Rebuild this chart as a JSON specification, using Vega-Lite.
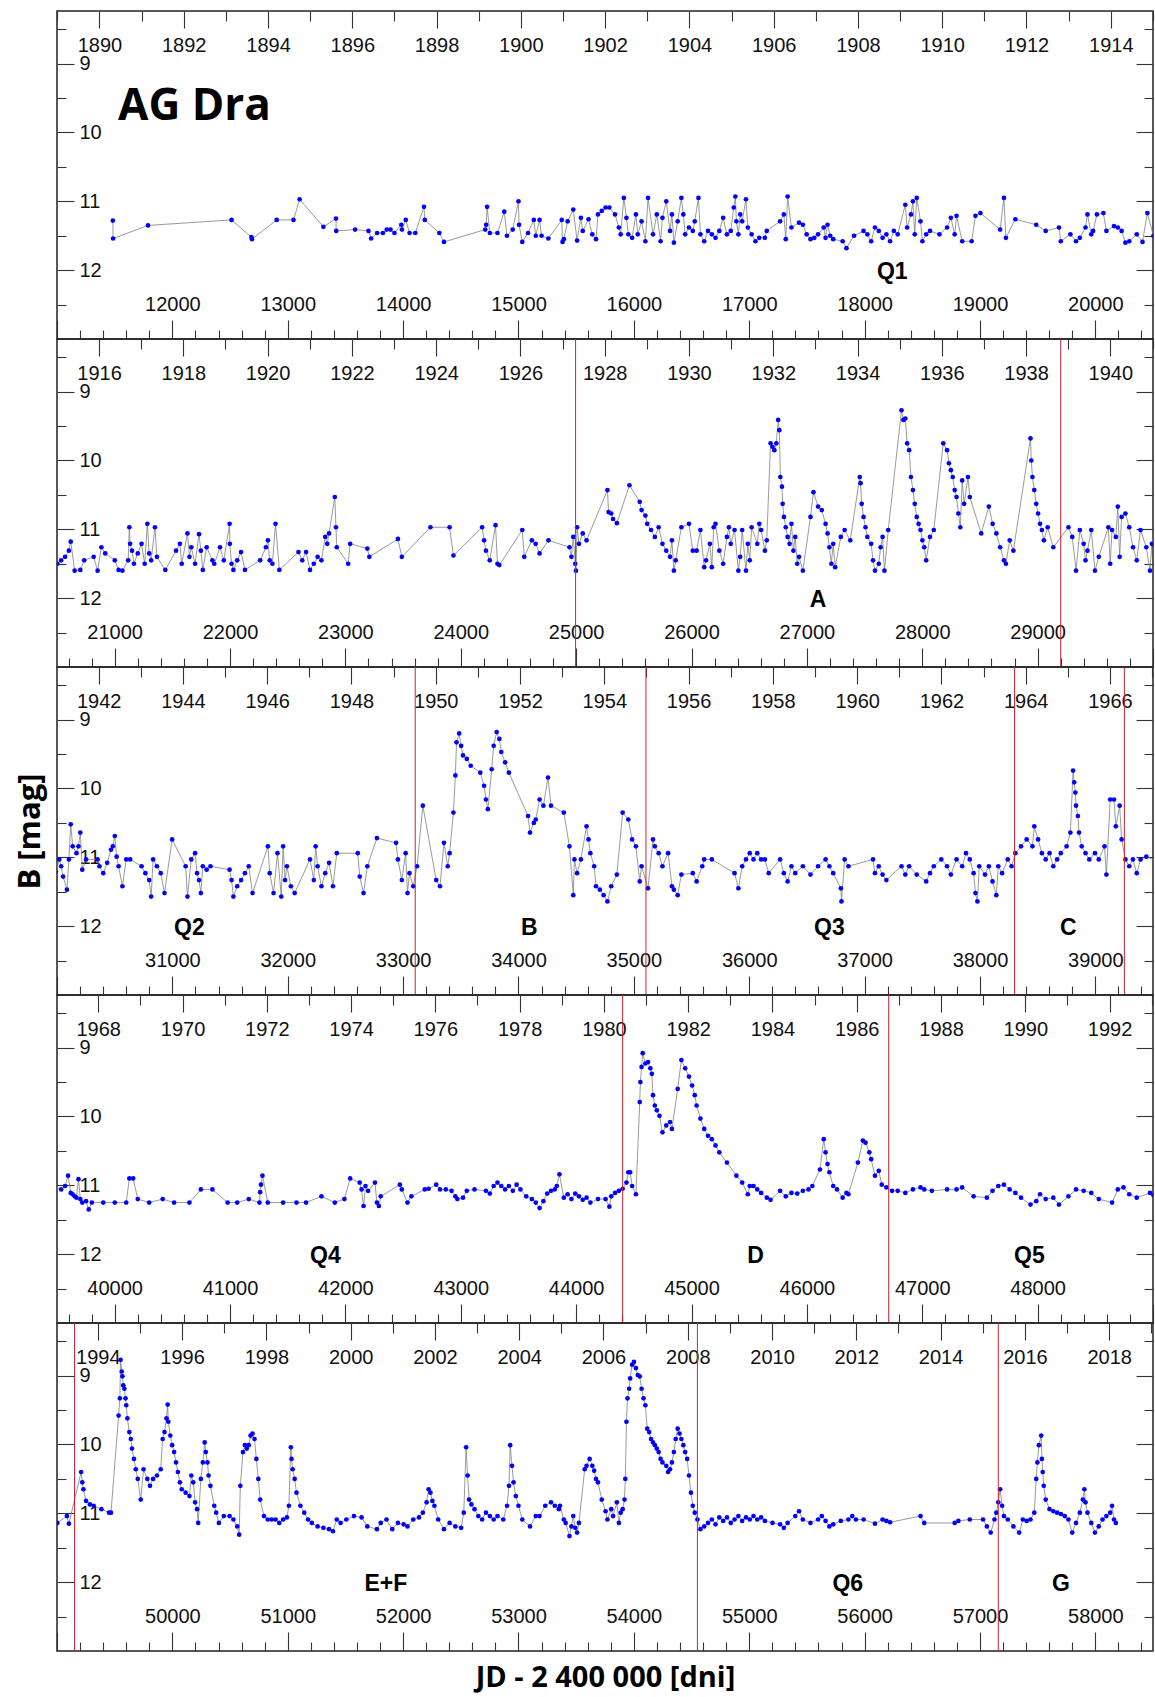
{
  "$schema": "https://vega.github.io/schema/vega-lite/v6.json",
  "padding": {"left": 13, "top": 9, "right": 0, "bottom": 0},
  "background": "white",
  "spacing": 0,
  "bounds": "flush",
  "datasets": {
    "cuts": [{"jd": 24995}, {"jd": 29200}, {"jd": 33105}, {"jd": 35105}, {"jd": 38300}, {"jd": 39252}, {"jd": 44403}, {"jd": 46709}, {"jd": 49152}, {"jd": 54551}, {"jd": 57159}],
    "phases": [
      {"jd": 18240, "b": 12.03, "t": "Q1"}, {"jd": 27096, "b": 12.03, "t": "A"},
      {"jd": 31148, "b": 12.03, "t": "Q2"}, {"jd": 34094, "b": 12.03, "t": "B"}, {"jd": 36695, "b": 12.03, "t": "Q3"}, {"jd": 38767, "b": 12.03, "t": "C"},
      {"jd": 41826, "b": 12.03, "t": "Q4"}, {"jd": 45554, "b": 12.03, "t": "D"}, {"jd": 47929, "b": 12.03, "t": "Q5"},
      {"jd": 51850, "b": 12.03, "t": "E+F"}, {"jd": 55854, "b": 12.03, "t": "Q6"}, {"jd": 57702, "b": 12.03, "t": "G"}
    ],
    "lc": [
{"jd":11484,"b":11.28},{"jd":11486,"b":11.54},{"jd":11789,"b":11.35},{"jd":12513,"b":11.27},{"jd":12685,"b":11.52},{"jd":12690,"b":11.55},{"jd":12904,"b":11.27},{"jd":13050,"b":11.27},{"jd":13103,"b":10.97},{"jd":13309,"b":11.37},{"jd":13418,"b":11.25},{"jd":13420,"b":11.43},{"jd":13584,"b":11.41},{"jd":13700,"b":11.43},{"jd":13723,"b":11.54},{"jd":13775,"b":11.46},{"jd":13825,"b":11.46},{"jd":13858,"b":11.41},{"jd":13891,"b":11.41},{"jd":13925,"b":11.46},{"jd":13984,"b":11.34},{"jd":13990,"b":11.41},{"jd":14023,"b":11.27},{"jd":14056,"b":11.46},{"jd":14106,"b":11.46},{"jd":14181,"b":11.08},{"jd":14188,"b":11.27},{"jd":14314,"b":11.46},{"jd":14354,"b":11.59},{"jd":14712,"b":11.41},{"jd":14720,"b":11.34},{"jd":14728,"b":11.08},{"jd":14752,"b":11.46},{"jd":14818,"b":11.46},{"jd":14877,"b":11.15},{"jd":14900,"b":11.5},{"jd":14950,"b":11.41},{"jd":15000,"b":11.0},{"jd":15005,"b":11.34},{"jd":15033,"b":11.59},{"jd":15083,"b":11.46},{"jd":15133,"b":11.27},{"jd":15150,"b":11.5},{"jd":15183,"b":11.27},{"jd":15200,"b":11.5},{"jd":15259,"b":11.54},{"jd":15375,"b":11.27},{"jd":15382,"b":11.59},
{"jd":15393,"b":11.55},{"jd":15426,"b":11.29},{"jd":15475,"b":11.12},{"jd":15508,"b":11.57},{"jd":15541,"b":11.24},{"jd":15557,"b":11.43},{"jd":15607,"b":11.26},{"jd":15640,"b":11.48},{"jd":15672,"b":11.55},{"jd":15689,"b":11.19},{"jd":15722,"b":11.14},{"jd":15755,"b":11.09},{"jd":15788,"b":11.09},{"jd":15837,"b":11.19},{"jd":15870,"b":11.38},{"jd":15886,"b":11.48},{"jd":15913,"b":10.95},{"jd":15936,"b":11.24},{"jd":15952,"b":11.48},{"jd":15985,"b":11.53},{"jd":16018,"b":11.19},{"jd":16034,"b":11.48},{"jd":16067,"b":11.29},{"jd":16100,"b":11.58},{"jd":16123,"b":10.95},{"jd":16166,"b":11.48},{"jd":16199,"b":11.19},{"jd":16232,"b":11.58},{"jd":16248,"b":11.24},{"jd":16281,"b":11.0},{"jd":16314,"b":11.43},{"jd":16330,"b":11.19},{"jd":16347,"b":11.6},{"jd":16380,"b":11.29},{"jd":16412,"b":10.95},{"jd":16429,"b":11.19},{"jd":16445,"b":11.48},{"jd":16478,"b":11.38},{"jd":16511,"b":11.43},{"jd":16528,"b":11.29},{"jd":16560,"b":10.95},{"jd":16577,"b":11.48},{"jd":16610,"b":11.58},{"jd":16643,"b":11.43},{"jd":16676,"b":11.48},{"jd":16708,"b":11.53},{"jd":16741,"b":11.43},{"jd":16774,"b":11.24},{"jd":16807,"b":11.48},{"jd":16840,"b":11.43},{"jd":16866,"b":11.09},{"jd":16880,"b":10.93},{"jd":16889,"b":11.29},{"jd":16906,"b":11.48},{"jd":16922,"b":11.19},{"jd":16939,"b":11.29},{"jd":16972,"b":10.97},{"jd":16988,"b":11.38},{"jd":17021,"b":11.48},{"jd":17054,"b":11.58},{"jd":17087,"b":11.53},{"jd":17136,"b":11.53},{"jd":17152,"b":11.43},{"jd":17268,"b":11.29},{"jd":17300,"b":11.19},{"jd":17317,"b":11.55},{"jd":17333,"b":10.93},{"jd":17366,"b":11.38},{"jd":17432,"b":11.31},{"jd":17465,"b":11.34},{"jd":17498,"b":11.48},{"jd":17531,"b":11.55},{"jd":17564,"b":11.53},{"jd":17597,"b":11.48},{"jd":17646,"b":11.38},{"jd":17662,"b":11.53},{"jd":17679,"b":11.34},{"jd":17702,"b":11.5},{"jd":17728,"b":11.55},{"jd":17810,"b":11.58},{"jd":17843,"b":11.68},{"jd":17909,"b":11.5},{"jd":17991,"b":11.43},{"jd":18024,"b":11.48},{"jd":18057,"b":11.58},{"jd":18090,"b":11.38},{"jd":18123,"b":11.43},{"jd":18156,"b":11.53},{"jd":18189,"b":11.48},{"jd":18221,"b":11.58},{"jd":18254,"b":11.43},{"jd":18287,"b":11.48},{"jd":18353,"b":11.05},{"jd":18369,"b":11.38},{"jd":18402,"b":11.19},{"jd":18419,"b":11.0},{"jd":18435,"b":11.48},{"jd":18452,"b":10.95},{"jd":18485,"b":11.29},{"jd":18501,"b":11.58},{"jd":18534,"b":11.48},{"jd":18567,"b":11.43},{"jd":18649,"b":11.48},{"jd":18715,"b":11.38},{"jd":18748,"b":11.24},{"jd":18781,"b":11.48},{"jd":18797,"b":11.21},{"jd":18846,"b":11.58},{"jd":18928,"b":11.58},{"jd":18961,"b":11.21},{"jd":19004,"b":11.17},{"jd":19175,"b":11.41},{"jd":19208,"b":10.95},{"jd":19225,"b":11.53},{"jd":19307,"b":11.26},{"jd":19488,"b":11.34},{"jd":19570,"b":11.43},{"jd":19685,"b":11.38},{"jd":19701,"b":11.58},{"jd":19784,"b":11.48},{"jd":19833,"b":11.58},{"jd":19866,"b":11.53},{"jd":19915,"b":11.38},{"jd":19932,"b":11.19},{"jd":19965,"b":11.48},{"jd":19981,"b":11.43},{"jd":20014,"b":11.19},{"jd":20070,"b":11.17},{"jd":20096,"b":11.43},{"jd":20162,"b":11.36},{"jd":20195,"b":11.38},{"jd":20228,"b":11.43},{"jd":20261,"b":11.6},{"jd":20294,"b":11.58},{"jd":20359,"b":11.48},{"jd":20409,"b":11.59},{"jd":20451,"b":11.17},
{"jd":20503,"b":11.5},{"jd":20536,"b":11.45},{"jd":20570,"b":11.4},{"jd":20603,"b":11.31},{"jd":20619,"b":11.18},{"jd":20653,"b":11.6},{"jd":20702,"b":11.59},{"jd":20736,"b":11.45},{"jd":20818,"b":11.4},{"jd":20852,"b":11.6},{"jd":20885,"b":11.26},{"jd":20918,"b":11.35},{"jd":21001,"b":11.45},{"jd":21034,"b":11.59},{"jd":21067,"b":11.6},{"jd":21117,"b":11.45},{"jd":21127,"b":10.97},{"jd":21134,"b":11.21},{"jd":21150,"b":11.31},{"jd":21167,"b":11.5},{"jd":21200,"b":11.35},{"jd":21233,"b":11.21},{"jd":21260,"b":11.5},{"jd":21283,"b":10.92},{"jd":21299,"b":11.35},{"jd":21316,"b":11.45},{"jd":21349,"b":10.97},{"jd":21366,"b":11.4},{"jd":21439,"b":11.59},{"jd":21532,"b":11.31},{"jd":21565,"b":11.21},{"jd":21581,"b":11.5},{"jd":21631,"b":11.06},{"jd":21648,"b":11.4},{"jd":21664,"b":11.26},{"jd":21697,"b":11.5},{"jd":21731,"b":11.07},{"jd":21747,"b":11.31},{"jd":21764,"b":11.59},{"jd":21797,"b":11.26},{"jd":21847,"b":11.45},{"jd":21863,"b":11.5},{"jd":21913,"b":11.26},{"jd":21946,"b":11.45},{"jd":21996,"b":10.92},{"jd":21998,"b":11.21},{"jd":22013,"b":11.5},{"jd":22029,"b":11.59},{"jd":22062,"b":11.45},{"jd":22095,"b":11.33},{"jd":22129,"b":11.59},{"jd":22261,"b":11.45},{"jd":22311,"b":11.26},{"jd":22328,"b":11.16},{"jd":22344,"b":11.45},{"jd":22367,"b":11.5},{"jd":22394,"b":10.92},{"jd":22427,"b":11.59},{"jd":22593,"b":11.33},{"jd":22626,"b":11.45},{"jd":22659,"b":11.33},{"jd":22693,"b":11.59},{"jd":22726,"b":11.5},{"jd":22759,"b":11.4},{"jd":22792,"b":11.45},{"jd":22825,"b":11.11},{"jd":22842,"b":11.21},{"jd":22858,"b":11.06},{"jd":22908,"b":10.53},{"jd":22918,"b":10.97},{"jd":22925,"b":11.26},{"jd":23024,"b":11.5},{"jd":23041,"b":11.21},{"jd":23190,"b":11.28},{"jd":23207,"b":11.4},{"jd":23455,"b":11.14},{"jd":23489,"b":11.4},{"jd":23737,"b":10.97},{"jd":23903,"b":10.97},{"jd":23936,"b":11.38},{"jd":24185,"b":10.97},{"jd":24202,"b":11.16},{"jd":24218,"b":11.31},{"jd":24251,"b":11.45},{"jd":24301,"b":10.94},{"jd":24318,"b":11.5},{"jd":24334,"b":11.52},{"jd":24533,"b":11.01},{"jd":24550,"b":11.4},{"jd":24616,"b":11.16},{"jd":24649,"b":11.21},{"jd":24683,"b":11.35},{"jd":24760,"b":11.16},
{"jd":24942,"b":11.26},{"jd":24959,"b":11.4},{"jd":24975,"b":11.11},{"jd":24992,"b":11.5},{"jd":24998,"b":11.6},{"jd":25008,"b":10.97},{"jd":25024,"b":11.21},{"jd":25057,"b":11.06},{"jd":25090,"b":11.16},{"jd":25271,"b":10.43},{"jd":25281,"b":10.75},{"jd":25304,"b":10.77},{"jd":25320,"b":10.85},{"jd":25353,"b":10.91},{"jd":25462,"b":10.36},{"jd":25551,"b":10.6},{"jd":25567,"b":10.72},{"jd":25600,"b":10.8},{"jd":25616,"b":10.92},{"jd":25649,"b":11.01},{"jd":25682,"b":11.11},{"jd":25715,"b":10.97},{"jd":25748,"b":11.21},{"jd":25781,"b":11.31},{"jd":25814,"b":11.4},{"jd":25830,"b":11.16},{"jd":25847,"b":11.6},{"jd":25863,"b":11.45},{"jd":25912,"b":10.97},{"jd":25978,"b":10.92},{"jd":26011,"b":11.31},{"jd":26044,"b":11.31},{"jd":26077,"b":11.01},{"jd":26110,"b":11.55},{"jd":26126,"b":11.45},{"jd":26159,"b":11.21},{"jd":26176,"b":11.55},{"jd":26192,"b":10.97},{"jd":26208,"b":10.92},{"jd":26241,"b":11.31},{"jd":26274,"b":11.5},{"jd":26307,"b":11.11},{"jd":26324,"b":10.97},{"jd":26340,"b":11.21},{"jd":26373,"b":11.01},{"jd":26406,"b":11.6},{"jd":26422,"b":11.4},{"jd":26439,"b":11.01},{"jd":26472,"b":11.6},{"jd":26488,"b":11.21},{"jd":26505,"b":11.45},{"jd":26521,"b":10.97},{"jd":26570,"b":11.21},{"jd":26587,"b":10.92},{"jd":26603,"b":11.01},{"jd":26636,"b":11.31},{"jd":26652,"b":11.16},
{"jd":26685,"b":9.75},{"jd":26702,"b":9.8},{"jd":26718,"b":9.85},{"jd":26735,"b":9.75},{"jd":26751,"b":9.41},{"jd":26761,"b":9.56},{"jd":26770,"b":10.24},{"jd":26784,"b":10.38},{"jd":26790,"b":10.63},{"jd":26801,"b":10.82},{"jd":26817,"b":10.97},{"jd":26833,"b":11.11},{"jd":26850,"b":11.21},{"jd":26866,"b":10.92},{"jd":26883,"b":11.31},{"jd":26899,"b":11.11},{"jd":26916,"b":11.5},{"jd":26932,"b":11.4},{"jd":26965,"b":11.6},{"jd":27031,"b":10.82},{"jd":27057,"b":10.46},{"jd":27097,"b":10.67},{"jd":27129,"b":10.72},{"jd":27162,"b":10.92},{"jd":27179,"b":11.06},{"jd":27195,"b":11.26},{"jd":27212,"b":11.5},{"jd":27228,"b":11.21},{"jd":27245,"b":11.55},{"jd":27294,"b":11.11},{"jd":27327,"b":11.01},{"jd":27376,"b":11.16},{"jd":27458,"b":10.24},{"jd":27465,"b":10.33},{"jd":27475,"b":10.63},{"jd":27491,"b":10.82},{"jd":27508,"b":10.97},{"jd":27524,"b":11.11},{"jd":27557,"b":11.21},{"jd":27573,"b":11.45},{"jd":27590,"b":11.6},{"jd":27623,"b":11.5},{"jd":27639,"b":11.26},{"jd":27656,"b":11.11},{"jd":27672,"b":11.6},{"jd":27705,"b":11.01},
{"jd":27820,"b":9.27},{"jd":27836,"b":9.41},{"jd":27853,"b":9.39},{"jd":27869,"b":9.75},{"jd":27886,"b":9.85},{"jd":27902,"b":10.24},{"jd":27919,"b":10.43},{"jd":27935,"b":10.63},{"jd":27952,"b":10.82},{"jd":27968,"b":10.92},{"jd":27985,"b":11.01},{"jd":28001,"b":11.16},{"jd":28017,"b":11.26},{"jd":28034,"b":11.45},{"jd":28067,"b":11.11},{"jd":28100,"b":11.01},
{"jd":28182,"b":9.75},{"jd":28215,"b":9.85},{"jd":28231,"b":10.04},{"jd":28248,"b":10.14},{"jd":28264,"b":10.24},{"jd":28281,"b":10.43},{"jd":28297,"b":10.53},{"jd":28313,"b":10.77},{"jd":28330,"b":10.97},{"jd":28346,"b":10.29},{"jd":28363,"b":10.63},{"jd":28396,"b":10.24},{"jd":28412,"b":10.53},{"jd":28511,"b":11.06},{"jd":28577,"b":10.67},{"jd":28610,"b":10.92},{"jd":28642,"b":11.06},{"jd":28675,"b":11.26},{"jd":28708,"b":11.45},{"jd":28725,"b":11.5},{"jd":28758,"b":11.16},{"jd":28790,"b":11.31},
{"jd":28938,"b":9.68},{"jd":28945,"b":10.0},{"jd":28955,"b":10.24},{"jd":28971,"b":10.43},{"jd":28988,"b":10.63},{"jd":29004,"b":10.77},{"jd":29021,"b":10.92},{"jd":29037,"b":11.01},{"jd":29054,"b":11.16},{"jd":29087,"b":10.97},{"jd":29136,"b":11.26},
{"jd":29267,"b":10.97},{"jd":29300,"b":11.11},{"jd":29333,"b":11.6},{"jd":29366,"b":11.01},{"jd":29399,"b":11.21},{"jd":29415,"b":11.45},{"jd":29432,"b":11.31},{"jd":29465,"b":11.01},{"jd":29497,"b":11.6},{"jd":29530,"b":11.4},{"jd":29613,"b":10.97},{"jd":29629,"b":11.5},{"jd":29645,"b":11.01},{"jd":29678,"b":11.11},{"jd":29695,"b":10.67},{"jd":29711,"b":11.4},{"jd":29728,"b":10.82},{"jd":29761,"b":10.77},{"jd":29794,"b":10.97},{"jd":29827,"b":11.26},{"jd":29859,"b":11.45},{"jd":29892,"b":11.01},{"jd":29942,"b":11.26},{"jd":29974,"b":11.6},{"jd":29990,"b":11.21},
{"jd":30020,"b":11.03},{"jd":30036,"b":11.13},{"jd":30053,"b":11.28},{"jd":30086,"b":11.47},{"jd":30103,"b":11.03},{"jd":30119,"b":10.52},{"jd":30136,"b":10.84},{"jd":30169,"b":10.94},{"jd":30186,"b":10.84},{"jd":30202,"b":10.64},{"jd":30219,"b":11.18},{"jd":30252,"b":11.03},{"jd":30352,"b":11.03},{"jd":30368,"b":11.13},{"jd":30401,"b":11.23},{"jd":30435,"b":11.08},{"jd":30468,"b":10.89},{"jd":30484,"b":10.84},{"jd":30501,"b":10.69},{"jd":30517,"b":10.99},{"jd":30534,"b":11.13},{"jd":30567,"b":11.42},{"jd":30600,"b":11.03},{"jd":30634,"b":11.03},{"jd":30733,"b":11.13},{"jd":30766,"b":11.23},{"jd":30799,"b":11.33},{"jd":30816,"b":11.57},{"jd":30833,"b":11.03},{"jd":30866,"b":11.13},{"jd":30899,"b":11.23},{"jd":30932,"b":11.52},{"jd":30998,"b":10.74},{"jd":31115,"b":11.13},{"jd":31131,"b":11.57},{"jd":31164,"b":11.03},{"jd":31197,"b":10.94},{"jd":31214,"b":11.23},{"jd":31231,"b":11.33},{"jd":31247,"b":11.52},{"jd":31264,"b":11.13},{"jd":31297,"b":11.18},{"jd":31330,"b":11.13},{"jd":31496,"b":11.18},{"jd":31513,"b":11.33},{"jd":31529,"b":11.57},{"jd":31562,"b":11.42},{"jd":31596,"b":11.33},{"jd":31629,"b":11.23},{"jd":31662,"b":11.13},{"jd":31695,"b":11.52},{"jd":31828,"b":10.84},{"jd":31844,"b":11.23},{"jd":31877,"b":11.52},{"jd":31911,"b":10.94},{"jd":31944,"b":11.57},{"jd":31960,"b":10.84},{"jd":31977,"b":11.33},{"jd":31993,"b":11.13},{"jd":32027,"b":11.42},{"jd":32060,"b":11.52},{"jd":32193,"b":11.03},{"jd":32226,"b":11.33},{"jd":32242,"b":10.84},{"jd":32259,"b":11.13},{"jd":32292,"b":11.42},{"jd":32325,"b":11.23},{"jd":32358,"b":11.08},{"jd":32392,"b":11.42},{"jd":32425,"b":10.94},{"jd":32607,"b":10.94},{"jd":32624,"b":11.28},{"jd":32657,"b":11.52},{"jd":32690,"b":11.13},{"jd":32773,"b":10.72},{"jd":32939,"b":10.79},{"jd":32955,"b":11.03},{"jd":32989,"b":11.33},{"jd":33022,"b":10.94},{"jd":33038,"b":11.52},{"jd":33055,"b":11.23},{"jd":33088,"b":11.42},{"jd":33121,"b":11.13},{"jd":33171,"b":10.25},{"jd":33287,"b":11.33},{"jd":33320,"b":11.42},{"jd":33354,"b":10.79},{"jd":33387,"b":11.13},{"jd":33403,"b":10.94},
{"jd":33436,"b":10.35},{"jd":33453,"b":9.81},{"jd":33463,"b":9.33},{"jd":33486,"b":9.2},{"jd":33503,"b":9.38},{"jd":33519,"b":9.52},{"jd":33552,"b":9.57},{"jd":33586,"b":9.67},{"jd":33669,"b":9.77},{"jd":33702,"b":9.96},{"jd":33718,"b":10.16},{"jd":33735,"b":10.3},{"jd":33768,"b":9.72},{"jd":33785,"b":9.38},{"jd":33811,"b":9.18},{"jd":33834,"b":9.28},{"jd":33851,"b":9.47},{"jd":33884,"b":9.62},{"jd":33917,"b":9.77},{"jd":34083,"b":10.4},{"jd":34100,"b":10.64},{"jd":34133,"b":10.5},{"jd":34150,"b":10.45},{"jd":34183,"b":10.16},{"jd":34216,"b":10.25},{"jd":34256,"b":9.84},{"jd":34282,"b":10.25},
{"jd":34393,"b":10.35},{"jd":34442,"b":10.84},{"jd":34475,"b":11.55},{"jd":34485,"b":11.03},{"jd":34508,"b":11.23},{"jd":34541,"b":11.03},{"jd":34590,"b":10.55},{"jd":34607,"b":10.74},{"jd":34623,"b":10.94},{"jd":34656,"b":11.13},{"jd":34672,"b":11.42},{"jd":34705,"b":11.47},{"jd":34738,"b":11.55},{"jd":34771,"b":11.64},{"jd":34804,"b":11.42},{"jd":34853,"b":11.25},{"jd":34903,"b":10.35},{"jd":34952,"b":10.45},{"jd":34985,"b":10.74},{"jd":35018,"b":10.84},{"jd":35051,"b":11.35},{"jd":35067,"b":11.13},{"jd":35123,"b":11.45},{"jd":35166,"b":10.74},{"jd":35182,"b":10.84},{"jd":35215,"b":10.94},{"jd":35248,"b":11.13},{"jd":35297,"b":10.94},{"jd":35330,"b":11.42},{"jd":35347,"b":11.47},{"jd":35380,"b":11.55},{"jd":35412,"b":11.25},{"jd":35511,"b":11.23},{"jd":35544,"b":11.35},{"jd":35593,"b":11.13},{"jd":35610,"b":11.03},{"jd":35676,"b":11.03},{"jd":35873,"b":11.23},{"jd":35906,"b":11.45},{"jd":35939,"b":11.13},{"jd":35972,"b":11.03},{"jd":36005,"b":10.94},{"jd":36037,"b":11.03},{"jd":36070,"b":10.94},{"jd":36103,"b":11.03},{"jd":36136,"b":11.03},{"jd":36169,"b":11.23},{"jd":36268,"b":11.03},{"jd":36300,"b":11.23},{"jd":36333,"b":11.35},{"jd":36366,"b":11.13},{"jd":36399,"b":11.23},{"jd":36465,"b":11.13},{"jd":36531,"b":11.25},{"jd":36597,"b":11.13},{"jd":36662,"b":11.03},{"jd":36695,"b":11.13},{"jd":36728,"b":11.23},{"jd":36794,"b":11.45},{"jd":36800,"b":11.64},{"jd":36827,"b":11.03},{"jd":36860,"b":11.13},{"jd":37073,"b":11.03},{"jd":37090,"b":11.23},{"jd":37123,"b":11.13},{"jd":37156,"b":11.25},{"jd":37189,"b":11.33},{"jd":37320,"b":11.13},{"jd":37353,"b":11.25},{"jd":37386,"b":11.13},{"jd":37452,"b":11.25},{"jd":37534,"b":11.35},{"jd":37567,"b":11.23},{"jd":37600,"b":11.13},{"jd":37665,"b":11.03},{"jd":37715,"b":11.13},{"jd":37748,"b":11.25},{"jd":37797,"b":11.03},{"jd":37846,"b":11.13},{"jd":37879,"b":10.94},{"jd":37912,"b":11.03},{"jd":37945,"b":11.23},{"jd":37961,"b":11.52},{"jd":37978,"b":11.64},{"jd":37994,"b":11.13},{"jd":38044,"b":11.25},{"jd":38077,"b":11.13},{"jd":38109,"b":11.35},{"jd":38142,"b":11.55},{"jd":38159,"b":11.13},{"jd":38192,"b":11.23},{"jd":38241,"b":11.03},{"jd":38274,"b":11.13},
{"jd":38307,"b":10.94},{"jd":38356,"b":10.84},{"jd":38405,"b":10.74},{"jd":38455,"b":10.84},{"jd":38471,"b":10.55},{"jd":38504,"b":10.74},{"jd":38537,"b":10.94},{"jd":38570,"b":11.03},{"jd":38603,"b":10.94},{"jd":38636,"b":11.13},{"jd":38669,"b":11.03},{"jd":38701,"b":10.94},{"jd":38751,"b":10.84},{"jd":38784,"b":10.64},{"jd":38807,"b":9.74},{"jd":38817,"b":9.91},{"jd":38827,"b":10.06},{"jd":38833,"b":10.25},{"jd":38849,"b":10.4},{"jd":38859,"b":10.64},{"jd":38882,"b":10.84},{"jd":38915,"b":10.94},{"jd":38948,"b":11.03},{"jd":38997,"b":10.94},{"jd":39030,"b":11.03},{"jd":39080,"b":10.84},{"jd":39096,"b":11.25},{"jd":39129,"b":10.16},{"jd":39162,"b":10.16},{"jd":39178,"b":10.55},{"jd":39211,"b":10.25},{"jd":39228,"b":10.74},{"jd":39261,"b":11.03},{"jd":39294,"b":11.13},{"jd":39326,"b":11.03},{"jd":39359,"b":11.23},{"jd":39392,"b":11.03},{"jd":39442,"b":10.99},
{"jd":39536,"b":11.06},{"jd":39570,"b":11.01},{"jd":39596,"b":10.86},{"jd":39619,"b":11.11},{"jd":39636,"b":11.13},{"jd":39653,"b":11.16},{"jd":39669,"b":11.18},{"jd":39686,"b":10.91},{"jd":39702,"b":11.2},{"jd":39719,"b":11.25},{"jd":39752,"b":11.23},{"jd":39775,"b":11.35},{"jd":39802,"b":11.25},{"jd":39901,"b":11.25},{"jd":40001,"b":11.25},{"jd":40100,"b":11.25},{"jd":40127,"b":10.9},{"jd":40160,"b":10.9},{"jd":40200,"b":11.2},{"jd":40299,"b":11.25},{"jd":40416,"b":11.2},{"jd":40515,"b":11.25},{"jd":40648,"b":11.25},{"jd":40747,"b":11.06},{"jd":40847,"b":11.06},{"jd":40979,"b":11.25},{"jd":41062,"b":11.25},{"jd":41162,"b":11.2},{"jd":41255,"b":11.25},{"jd":41261,"b":11.1},{"jd":41268,"b":10.99},{"jd":41281,"b":10.86},{"jd":41327,"b":11.25},{"jd":41460,"b":11.25},{"jd":41576,"b":11.25},{"jd":41659,"b":11.25},{"jd":41792,"b":11.16},{"jd":41908,"b":11.25},{"jd":41991,"b":11.2},{"jd":42041,"b":10.9},{"jd":42124,"b":10.96},{"jd":42140,"b":11.06},{"jd":42157,"b":11.3},{"jd":42174,"b":11.01},{"jd":42197,"b":11.08},{"jd":42256,"b":10.96},{"jd":42273,"b":11.25},{"jd":42290,"b":11.3},{"jd":42306,"b":11.16},{"jd":42472,"b":10.99},{"jd":42489,"b":11.06},{"jd":42538,"b":11.25},{"jd":42572,"b":11.16},{"jd":42688,"b":11.06},{"jd":42721,"b":11.05},{"jd":42787,"b":10.99},{"jd":42820,"b":11.06},{"jd":42870,"b":11.06},{"jd":42920,"b":11.08},{"jd":42953,"b":11.16},{"jd":42970,"b":11.2},{"jd":43019,"b":11.18},{"jd":43052,"b":11.08},{"jd":43119,"b":11.06},{"jd":43218,"b":11.08},{"jd":43252,"b":11.12},{"jd":43285,"b":11.01},{"jd":43318,"b":10.96},{"jd":43351,"b":11.01},{"jd":43384,"b":11.06},{"jd":43417,"b":11.01},{"jd":43451,"b":11.08},{"jd":43484,"b":10.99},{"jd":43517,"b":11.06},{"jd":43567,"b":11.16},{"jd":43616,"b":11.2},{"jd":43650,"b":11.25},{"jd":43683,"b":11.33},{"jd":43716,"b":11.23},{"jd":43749,"b":11.12},{"jd":43782,"b":11.08},{"jd":43815,"b":11.06},{"jd":43832,"b":11.01},{"jd":43855,"b":10.84},
{"jd":43893,"b":11.18},{"jd":43926,"b":11.13},{"jd":43959,"b":11.2},{"jd":43992,"b":11.12},{"jd":44024,"b":11.16},{"jd":44057,"b":11.21},{"jd":44090,"b":11.18},{"jd":44123,"b":11.25},{"jd":44189,"b":11.2},{"jd":44255,"b":11.2},{"jd":44288,"b":11.31},{"jd":44304,"b":11.16},{"jd":44337,"b":11.11},{"jd":44370,"b":11.08},{"jd":44403,"b":11.05},{"jd":44436,"b":10.96},{"jd":44452,"b":10.81},{"jd":44468,"b":10.81},{"jd":44485,"b":11.01},{"jd":44518,"b":11.13},
{"jd":44551,"b":9.79},{"jd":44557,"b":9.5},{"jd":44567,"b":9.28},{"jd":44577,"b":9.08},{"jd":44600,"b":9.23},{"jd":44623,"b":9.21},{"jd":44643,"b":9.3},{"jd":44656,"b":9.38},{"jd":44666,"b":9.69},{"jd":44682,"b":9.84},{"jd":44699,"b":9.91},{"jd":44722,"b":9.99},{"jd":44748,"b":10.23},{"jd":44781,"b":10.13},{"jd":44814,"b":10.08},{"jd":44830,"b":10.18},{"jd":44880,"b":9.6},{"jd":44912,"b":9.18},{"jd":44945,"b":9.3},{"jd":44978,"b":9.42},{"jd":45005,"b":9.55},{"jd":45028,"b":9.69},{"jd":45044,"b":9.84},{"jd":45077,"b":10.03},{"jd":45110,"b":10.18},{"jd":45143,"b":10.28},{"jd":45176,"b":10.33},{"jd":45208,"b":10.42},{"jd":45241,"b":10.52},{"jd":45307,"b":10.67},{"jd":45389,"b":10.86},{"jd":45439,"b":10.96},{"jd":45488,"b":11.13},{"jd":45505,"b":11.01},{"jd":45537,"b":11.01},{"jd":45570,"b":11.06},{"jd":45603,"b":11.11},{"jd":45653,"b":11.18},{"jd":45685,"b":11.21},{"jd":45768,"b":11.08},{"jd":45817,"b":11.16},{"jd":45866,"b":11.11},{"jd":45916,"b":11.12},{"jd":45965,"b":11.08},{"jd":46014,"b":11.06},{"jd":46047,"b":11.01},{"jd":46113,"b":10.77},{"jd":46146,"b":10.33},{"jd":46162,"b":10.52},{"jd":46179,"b":10.69},{"jd":46195,"b":10.81},{"jd":46228,"b":11.01},{"jd":46261,"b":11.06},{"jd":46310,"b":11.18},{"jd":46343,"b":11.11},{"jd":46360,"b":11.13},{"jd":46442,"b":10.67},{"jd":46485,"b":10.35},{"jd":46508,"b":10.38},{"jd":46541,"b":10.52},{"jd":46557,"b":10.62},{"jd":46590,"b":10.86},{"jd":46623,"b":10.79},{"jd":46649,"b":10.99},{"jd":46689,"b":11.03},{"jd":46738,"b":11.08},{"jd":46787,"b":11.08},{"jd":46853,"b":11.11},{"jd":46919,"b":11.06},{"jd":46985,"b":11.03},{"jd":47017,"b":11.06},{"jd":47083,"b":11.08},{"jd":47215,"b":11.06},{"jd":47297,"b":11.06},{"jd":47346,"b":11.03},{"jd":47445,"b":11.16},{"jd":47560,"b":11.18},{"jd":47609,"b":11.08},{"jd":47659,"b":11.01},{"jd":47708,"b":10.99},{"jd":47757,"b":11.06},{"jd":47807,"b":11.11},{"jd":47856,"b":11.18},{"jd":47938,"b":11.28},{"jd":47988,"b":11.23},{"jd":48021,"b":11.13},{"jd":48070,"b":11.2},{"jd":48136,"b":11.18},{"jd":48185,"b":11.28},{"jd":48267,"b":11.16},{"jd":48333,"b":11.06},{"jd":48399,"b":11.08},{"jd":48465,"b":11.11},{"jd":48530,"b":11.2},{"jd":48645,"b":11.25},{"jd":48695,"b":11.06},{"jd":48744,"b":11.03},{"jd":48794,"b":11.13},{"jd":48859,"b":11.18},{"jd":48974,"b":11.11},
{"jd":49003,"b":11.14},{"jd":49086,"b":11.04},{"jd":49103,"b":11.15},{"jd":49209,"b":10.4},{"jd":49219,"b":10.55},{"jd":49229,"b":10.65},{"jd":49252,"b":10.82},{"jd":49285,"b":10.87},{"jd":49318,"b":10.89},{"jd":49385,"b":10.94},{"jd":49451,"b":10.99},{"jd":49468,"b":10.99},{"jd":49534,"b":9.58},{"jd":49545,"b":9.33},{"jd":49551,"b":8.77},{"jd":49561,"b":8.94},{"jd":49567,"b":9.01},{"jd":49574,"b":9.14},{"jd":49584,"b":9.19},{"jd":49594,"b":9.33},{"jd":49600,"b":9.43},{"jd":49610,"b":9.62},{"jd":49627,"b":9.82},{"jd":49640,"b":9.92},{"jd":49650,"b":10.06},{"jd":49667,"b":10.21},{"jd":49683,"b":10.36},{"jd":49700,"b":10.5},{"jd":49726,"b":10.8},{"jd":49750,"b":10.36},{"jd":49783,"b":10.5},{"jd":49806,"b":10.6},{"jd":49833,"b":10.5},{"jd":49866,"b":10.45},{"jd":49899,"b":10.36},{"jd":49916,"b":9.92},{"jd":49932,"b":9.82},{"jd":49949,"b":9.62},{"jd":49959,"b":9.42},{"jd":49965,"b":9.67},{"jd":49982,"b":9.87},{"jd":49998,"b":10.01},{"jd":50015,"b":10.11},{"jd":50032,"b":10.26},{"jd":50048,"b":10.4},{"jd":50065,"b":10.55},{"jd":50081,"b":10.65},{"jd":50115,"b":10.7},{"jd":50148,"b":10.75},{"jd":50164,"b":10.45},{"jd":50181,"b":10.55},{"jd":50197,"b":10.84},{"jd":50214,"b":10.94},{"jd":50224,"b":11.14},{"jd":50247,"b":10.5},{"jd":50264,"b":10.26},{"jd":50280,"b":9.97},{"jd":50290,"b":10.11},{"jd":50304,"b":10.26},{"jd":50314,"b":10.45},{"jd":50330,"b":10.6},{"jd":50363,"b":10.89},{"jd":50380,"b":10.99},{"jd":50403,"b":11.14},{"jd":50446,"b":11.04},{"jd":50496,"b":11.04},{"jd":50529,"b":11.09},{"jd":50562,"b":11.19},{"jd":50579,"b":11.31},{"jd":50589,"b":10.6},{"jd":50612,"b":10.11},{"jd":50629,"b":10.01},{"jd":50645,"b":10.06},{"jd":50662,"b":10.01},{"jd":50678,"b":9.87},{"jd":50695,"b":9.84},{"jd":50712,"b":9.92},{"jd":50728,"b":10.21},{"jd":50745,"b":10.5},{"jd":50761,"b":10.8},{"jd":50794,"b":11.04},{"jd":50827,"b":11.09},{"jd":50861,"b":11.09},{"jd":50894,"b":11.09},{"jd":50927,"b":11.14},{"jd":50960,"b":11.09},{"jd":50993,"b":11.06},{"jd":51010,"b":10.89},{"jd":51027,"b":10.04},{"jd":51033,"b":10.21},{"jd":51043,"b":10.36},{"jd":51060,"b":10.5},{"jd":51076,"b":10.7},{"jd":51110,"b":10.89},{"jd":51143,"b":10.99},{"jd":51176,"b":11.09},{"jd":51209,"b":11.14},{"jd":51259,"b":11.19},{"jd":51309,"b":11.21},{"jd":51358,"b":11.23},{"jd":51392,"b":11.26},{"jd":51425,"b":11.09},{"jd":51458,"b":11.14},{"jd":51508,"b":11.09},{"jd":51574,"b":11.04},{"jd":51640,"b":11.06},{"jd":51690,"b":11.19},{"jd":51773,"b":11.23},{"jd":51806,"b":11.14},{"jd":51856,"b":11.09},{"jd":51906,"b":11.23},{"jd":51955,"b":11.14},{"jd":52005,"b":11.16},{"jd":52038,"b":11.19},{"jd":52088,"b":11.09},{"jd":52138,"b":11.06},{"jd":52171,"b":10.99},{"jd":52204,"b":10.84},{"jd":52221,"b":10.65},{"jd":52237,"b":10.7},{"jd":52254,"b":10.82},{"jd":52271,"b":10.89},{"jd":52304,"b":11.09},{"jd":52354,"b":11.23},{"jd":52403,"b":11.14},{"jd":52453,"b":11.19},{"jd":52503,"b":11.21},{"jd":52526,"b":10.99},{"jd":52546,"b":10.04},{"jd":52559,"b":10.45},{"jd":52572,"b":10.8},{"jd":52592,"b":10.87},{"jd":52619,"b":10.94},{"jd":52652,"b":11.04},{"jd":52685,"b":11.09},{"jd":52718,"b":10.99},{"jd":52752,"b":11.04},{"jd":52785,"b":11.09},{"jd":52818,"b":11.04},{"jd":52868,"b":11.09},{"jd":52901,"b":10.89},{"jd":52918,"b":10.6},{"jd":52928,"b":10.01},{"jd":52944,"b":10.31},{"jd":52957,"b":10.55},{"jd":52977,"b":10.75},{"jd":53000,"b":10.89},{"jd":53033,"b":11.09},{"jd":53100,"b":11.19},{"jd":53150,"b":11.04},{"jd":53183,"b":11.04},{"jd":53232,"b":10.89},{"jd":53282,"b":10.84},{"jd":53315,"b":10.89},{"jd":53350,"b":10.94},
{"jd":53360,"b":10.89},{"jd":53393,"b":11.09},{"jd":53409,"b":11.14},{"jd":53442,"b":11.33},{"jd":53459,"b":11.19},{"jd":53475,"b":11.04},{"jd":53492,"b":11.21},{"jd":53508,"b":11.28},{"jd":53524,"b":11.14},{"jd":53574,"b":10.36},{"jd":53590,"b":10.31},{"jd":53617,"b":10.21},{"jd":53640,"b":10.31},{"jd":53656,"b":10.38},{"jd":53672,"b":10.5},{"jd":53689,"b":10.55},{"jd":53722,"b":10.8},{"jd":53755,"b":10.97},{"jd":53771,"b":11.09},{"jd":53804,"b":10.94},{"jd":53820,"b":11.04},{"jd":53853,"b":10.84},{"jd":53870,"b":11.14},{"jd":53886,"b":10.99},{"jd":53903,"b":10.94},{"jd":53919,"b":10.8},{"jd":53926,"b":10.5},{"jd":53936,"b":9.67},{"jd":53945,"b":9.33},{"jd":53959,"b":9.19},{"jd":53968,"b":9.04},{"jd":53985,"b":8.84},{"jd":54001,"b":8.8},{"jd":54018,"b":8.89},{"jd":54034,"b":8.99},{"jd":54051,"b":9.01},{"jd":54067,"b":9.19},{"jd":54084,"b":9.33},{"jd":54100,"b":9.43},{"jd":54116,"b":9.77},{"jd":54133,"b":9.82},{"jd":54149,"b":9.92},{"jd":54166,"b":9.97},{"jd":54182,"b":10.01},{"jd":54199,"b":10.06},{"jd":54215,"b":10.11},{"jd":54232,"b":10.21},{"jd":54248,"b":10.26},{"jd":54281,"b":10.31},{"jd":54297,"b":10.4},{"jd":54314,"b":10.36},{"jd":54330,"b":10.26},{"jd":54347,"b":10.11},{"jd":54363,"b":9.92},{"jd":54380,"b":9.77},{"jd":54396,"b":9.84},{"jd":54412,"b":9.92},{"jd":54429,"b":10.01},{"jd":54445,"b":10.11},{"jd":54462,"b":10.21},{"jd":54478,"b":10.45},{"jd":54495,"b":10.7},{"jd":54511,"b":10.89},{"jd":54528,"b":10.99},{"jd":54551,"b":11.09},{"jd":54577,"b":11.23},{"jd":54610,"b":11.19},{"jd":54643,"b":11.14},{"jd":54676,"b":11.09},{"jd":54708,"b":11.16},{"jd":54741,"b":11.06},{"jd":54774,"b":11.11},{"jd":54807,"b":11.06},{"jd":54840,"b":11.14},{"jd":54873,"b":11.09},{"jd":54906,"b":11.04},{"jd":54939,"b":11.11},{"jd":54972,"b":11.06},{"jd":55005,"b":11.09},{"jd":55037,"b":11.04},{"jd":55070,"b":11.09},{"jd":55103,"b":11.06},{"jd":55136,"b":11.11},{"jd":55202,"b":11.14},{"jd":55268,"b":11.16},{"jd":55300,"b":11.21},{"jd":55333,"b":11.14},{"jd":55399,"b":11.04},{"jd":55432,"b":10.97},{"jd":55465,"b":11.09},{"jd":55531,"b":11.14},{"jd":55597,"b":11.09},{"jd":55629,"b":11.04},{"jd":55662,"b":11.11},{"jd":55695,"b":11.19},{"jd":55728,"b":11.16},{"jd":55794,"b":11.11},{"jd":55860,"b":11.09},{"jd":55893,"b":11.04},{"jd":55925,"b":11.09},{"jd":55991,"b":11.09},{"jd":56090,"b":11.15},{"jd":56156,"b":11.09},{"jd":56189,"b":11.11},{"jd":56221,"b":11.13},{"jd":56485,"b":11.04},{"jd":56517,"b":11.14},{"jd":56781,"b":11.14},{"jd":56813,"b":11.11},{"jd":56912,"b":11.09},{"jd":57027,"b":11.09},{"jd":57060,"b":11.19},{"jd":57093,"b":11.28},{"jd":57126,"b":11.09},{"jd":57142,"b":10.99},{"jd":57159,"b":10.84},{"jd":57175,"b":10.65},{"jd":57192,"b":10.89},{"jd":57208,"b":11.04},{"jd":57241,"b":11.09},{"jd":57290,"b":11.19},{"jd":57340,"b":11.28},{"jd":57372,"b":11.09},{"jd":57405,"b":11.11},{"jd":57438,"b":11.09},{"jd":57471,"b":10.99},{"jd":57488,"b":10.5},{"jd":57498,"b":10.26},{"jd":57511,"b":10.01},{"jd":57531,"b":9.87},{"jd":57537,"b":10.21},{"jd":57544,"b":10.4},{"jd":57553,"b":10.6},{"jd":57570,"b":10.8},{"jd":57603,"b":10.94},{"jd":57636,"b":10.97},{"jd":57669,"b":10.99},{"jd":57702,"b":11.01},{"jd":57735,"b":11.04},{"jd":57767,"b":11.09},{"jd":57800,"b":11.28},{"jd":57833,"b":11.14},{"jd":57866,"b":10.99},{"jd":57892,"b":10.8},{"jd":57905,"b":10.65},{"jd":57915,"b":10.84},{"jd":57932,"b":10.99},{"jd":57965,"b":11.14},{"jd":57997,"b":11.28},{"jd":58030,"b":11.19},{"jd":58063,"b":11.09},{"jd":58096,"b":11.04},{"jd":58129,"b":10.99},{"jd":58145,"b":10.89},{"jd":58162,"b":11.09},{"jd":58178,"b":11.14}
    ]
  },
  "vconcat": [
    {
      "width": 1096, "height": 328,
      "layer": [
        {"layer": [
          {"data": {"name": "lc"}, "transform": [{"filter": "datum.jd >= 10700 && datum.jd <= 20800"}],
           "mark": {"type": "line", "color": "#808080", "strokeWidth": 0.8, "clip": true},
           "encoding": {
             "x": {"field": "jd", "type": "quantitative", "scale": {"domain": [11000, 20500], "nice": false, "zero": false},
                   "axis": {"orient": "bottom", "tickCount": 48, "format": "d", "labelExpr": "datum.value % 1000 === 0 && datum.value > 11000 && datum.value < 20500 ? datum.label : ''", "tickSize": {"condition": {"test": "datum.value % 1000 === 0", "value": -19}, "value": -9}, "labelPadding": -16, "labelBaseline": "middle", "labelOverlap": false, "labelFlush": false, "title": null}},
             "y": {"field": "b", "type": "quantitative", "scale": {"domain": [8.235, 13], "reverse": true, "nice": false, "zero": false},
                   "axis": {"orient": "left", "values": [8.5, 9, 9.5, 10, 10.5, 11, 11.5, 12, 12.5], "labelExpr": "datum.value % 1 === 0 ? '' + datum.value : ''", "tickSize": {"condition": {"test": "datum.value % 1 === 0", "value": -17}, "value": -9}, "labelAlign": "left", "labelPadding": -5, "labelBaseline": "middle", "labelOverlap": false, "title": null}}
           }},
          {"data": {"name": "lc"}, "transform": [{"filter": "datum.jd >= 10700 && datum.jd <= 20800"}],
           "mark": {"type": "circle", "color": "#0000ff", "size": 22, "opacity": 1, "clip": true},
           "encoding": {
             "x": {"field": "jd", "type": "quantitative", "scale": {"domain": [11000, 20500], "nice": false, "zero": false}},
             "y": {"field": "b", "type": "quantitative", "scale": {"domain": [8.235, 13], "reverse": true, "nice": false, "zero": false}}
           }},
          {"data": {"name": "phases"}, "transform": [{"filter": "datum.jd > 11000 && datum.jd < 20500"}],
           "mark": {"type": "text", "font": "Liberation Sans", "fontWeight": "bold", "fontSize": 23, "color": "#000"},
           "encoding": {
             "x": {"field": "jd", "type": "quantitative", "scale": {"domain": [11000, 20500], "nice": false, "zero": false}},
             "y": {"field": "b", "type": "quantitative", "scale": {"domain": [8.235, 13], "reverse": true, "nice": false, "zero": false}},
             "text": {"field": "t"}
           }},
          {"data": {"values": [{"jd": 11529, "b": 9.82, "t": "AG Dra"}]},
           "mark": {"type": "text", "font": "Open Sans", "fontWeight": "bold", "fontSize": 44, "align": "left", "baseline": "alphabetic", "color": "#000"},
           "encoding": {
             "x": {"field": "jd", "type": "quantitative", "scale": {"domain": [11000, 20500], "nice": false, "zero": false}},
             "y": {"field": "b", "type": "quantitative", "scale": {"domain": [8.235, 13], "reverse": true, "nice": false, "zero": false}},
             "text": {"field": "t"}
           }}
        ]},
        {"data": {"values": [{"yr": 1900, "b": 11}]},
         "mark": {"type": "point", "opacity": 0},
         "encoding": {
           "x": {"field": "yr", "type": "quantitative", "scale": {"domain": [1888.9925, 1915.0021], "nice": false, "zero": false},
                 "axis": {"orient": "top", "tickCount": 26, "format": "d", "labelExpr": "datum.value % 2 === 0 ? datum.label : ''", "tickSize": {"condition": {"test": "datum.value % 2 === 0", "value": -17}, "value": -10}, "labelPadding": -17, "labelBaseline": "middle", "labelOverlap": false, "labelFlush": false, "title": null}},
           "y": {"field": "b", "type": "quantitative", "scale": {"domain": [8.235, 13], "reverse": true, "nice": false, "zero": false},
                 "axis": {"orient": "right", "values": [8.5, 9, 9.5, 10, 10.5, 11, 11.5, 12, 12.5], "labels": false, "tickSize": {"condition": {"test": "datum.value % 1 === 0", "value": -17}, "value": -9}, "title": null}}
         }}
      ],
      "resolve": {"scale": {"x": "independent"}, "axis": {"x": "independent", "y": "independent"}}
    },
    {
      "width": 1096, "height": 328,
      "layer": [
        {"layer": [
          {"data": {"name": "lc"}, "transform": [{"filter": "datum.jd >= 20200 && datum.jd <= 30300"}],
           "mark": {"type": "line", "color": "#808080", "strokeWidth": 0.8, "clip": true},
           "encoding": {
             "x": {"field": "jd", "type": "quantitative", "scale": {"domain": [20500, 30000], "nice": false, "zero": false},
                   "axis": {"orient": "bottom", "tickCount": 48, "format": "d", "labelExpr": "datum.value % 1000 === 0 && datum.value > 20500 && datum.value < 30000 ? datum.label : ''", "tickSize": {"condition": {"test": "datum.value % 1000 === 0", "value": -19}, "value": -9}, "labelPadding": -16, "labelBaseline": "middle", "labelOverlap": false, "labelFlush": false, "title": null}},
             "y": {"field": "b", "type": "quantitative", "scale": {"domain": [8.235, 13], "reverse": true, "nice": false, "zero": false},
                   "axis": {"orient": "left", "values": [8.5, 9, 9.5, 10, 10.5, 11, 11.5, 12, 12.5], "labelExpr": "datum.value % 1 === 0 ? '' + datum.value : ''", "tickSize": {"condition": {"test": "datum.value % 1 === 0", "value": -17}, "value": -9}, "labelAlign": "left", "labelPadding": -5, "labelBaseline": "middle", "labelOverlap": false, "title": null}}
           }},
          {"data": {"name": "lc"}, "transform": [{"filter": "datum.jd >= 20200 && datum.jd <= 30300"}],
           "mark": {"type": "circle", "color": "#0000ff", "size": 22, "opacity": 1, "clip": true},
           "encoding": {
             "x": {"field": "jd", "type": "quantitative", "scale": {"domain": [20500, 30000], "nice": false, "zero": false}},
             "y": {"field": "b", "type": "quantitative", "scale": {"domain": [8.235, 13], "reverse": true, "nice": false, "zero": false}}
           }},
          {"data": {"name": "cuts"}, "transform": [{"filter": "datum.jd > 20500 && datum.jd < 30000"}],
           "mark": {"type": "rule", "color": "#cc2233", "strokeWidth": 1},
           "encoding": {
             "x": {"field": "jd", "type": "quantitative", "scale": {"domain": [20500, 30000], "nice": false, "zero": false}}
           }},
          {"data": {"name": "phases"}, "transform": [{"filter": "datum.jd > 20500 && datum.jd < 30000"}],
           "mark": {"type": "text", "font": "Liberation Sans", "fontWeight": "bold", "fontSize": 23, "color": "#000"},
           "encoding": {
             "x": {"field": "jd", "type": "quantitative", "scale": {"domain": [20500, 30000], "nice": false, "zero": false}},
             "y": {"field": "b", "type": "quantitative", "scale": {"domain": [8.235, 13], "reverse": true, "nice": false, "zero": false}},
             "text": {"field": "t"}
           }}
        ]},
        {"data": {"values": [{"yr": 1920, "b": 11}]},
         "mark": {"type": "point", "opacity": 0},
         "encoding": {
           "x": {"field": "yr", "type": "quantitative", "scale": {"domain": [1915.0021, 1941.0116], "nice": false, "zero": false},
                 "axis": {"orient": "top", "tickCount": 26, "format": "d", "labelExpr": "datum.value % 2 === 0 ? datum.label : ''", "tickSize": {"condition": {"test": "datum.value % 2 === 0", "value": -17}, "value": -10}, "labelPadding": -17, "labelBaseline": "middle", "labelOverlap": false, "labelFlush": false, "title": null}},
           "y": {"field": "b", "type": "quantitative", "scale": {"domain": [8.235, 13], "reverse": true, "nice": false, "zero": false},
                 "axis": {"orient": "right", "values": [8.5, 9, 9.5, 10, 10.5, 11, 11.5, 12, 12.5], "labels": false, "tickSize": {"condition": {"test": "datum.value % 1 === 0", "value": -17}, "value": -9}, "title": null}}
         }}
      ],
      "resolve": {"scale": {"x": "independent"}, "axis": {"x": "independent", "y": "independent"}}
    },
    {
      "width": 1096, "height": 328,
      "layer": [
        {"layer": [
          {"data": {"name": "lc"}, "transform": [{"filter": "datum.jd >= 29700 && datum.jd <= 39800"}],
           "mark": {"type": "line", "color": "#808080", "strokeWidth": 0.8, "clip": true},
           "encoding": {
             "x": {"field": "jd", "type": "quantitative", "scale": {"domain": [30000, 39500], "nice": false, "zero": false},
                   "axis": {"orient": "bottom", "tickCount": 48, "format": "d", "labelExpr": "datum.value % 1000 === 0 && datum.value > 30000 && datum.value < 39500 ? datum.label : ''", "tickSize": {"condition": {"test": "datum.value % 1000 === 0", "value": -19}, "value": -9}, "labelPadding": -16, "labelBaseline": "middle", "labelOverlap": false, "labelFlush": false, "title": null}},
             "y": {"field": "b", "type": "quantitative", "scale": {"domain": [8.235, 13], "reverse": true, "nice": false, "zero": false},
                   "axis": {"orient": "left", "values": [8.5, 9, 9.5, 10, 10.5, 11, 11.5, 12, 12.5], "labelExpr": "datum.value % 1 === 0 ? '' + datum.value : ''", "tickSize": {"condition": {"test": "datum.value % 1 === 0", "value": -17}, "value": -9}, "labelAlign": "left", "labelPadding": -5, "labelBaseline": "middle", "labelOverlap": false,
                            "title": "B [mag]", "titleFont": "Open Sans", "titleFontWeight": "bold", "titleFontSize": 31, "titleColor": "#000", "titlePadding": 10}}
           }},
          {"data": {"name": "lc"}, "transform": [{"filter": "datum.jd >= 29700 && datum.jd <= 39800"}],
           "mark": {"type": "circle", "color": "#0000ff", "size": 22, "opacity": 1, "clip": true},
           "encoding": {
             "x": {"field": "jd", "type": "quantitative", "scale": {"domain": [30000, 39500], "nice": false, "zero": false}},
             "y": {"field": "b", "type": "quantitative", "scale": {"domain": [8.235, 13], "reverse": true, "nice": false, "zero": false}}
           }},
          {"data": {"name": "cuts"}, "transform": [{"filter": "datum.jd > 30000 && datum.jd < 39500"}],
           "mark": {"type": "rule", "color": "#cc2233", "strokeWidth": 1},
           "encoding": {
             "x": {"field": "jd", "type": "quantitative", "scale": {"domain": [30000, 39500], "nice": false, "zero": false}}
           }},
          {"data": {"name": "phases"}, "transform": [{"filter": "datum.jd > 30000 && datum.jd < 39500"}],
           "mark": {"type": "text", "font": "Liberation Sans", "fontWeight": "bold", "fontSize": 23, "color": "#000"},
           "encoding": {
             "x": {"field": "jd", "type": "quantitative", "scale": {"domain": [30000, 39500], "nice": false, "zero": false}},
             "y": {"field": "b", "type": "quantitative", "scale": {"domain": [8.235, 13], "reverse": true, "nice": false, "zero": false}},
             "text": {"field": "t"}
           }}
        ]},
        {"data": {"values": [{"yr": 1950, "b": 11}]},
         "mark": {"type": "point", "opacity": 0},
         "encoding": {
           "x": {"field": "yr", "type": "quantitative", "scale": {"domain": [1941.0116, 1967.0212], "nice": false, "zero": false},
                 "axis": {"orient": "top", "tickCount": 26, "format": "d", "labelExpr": "datum.value % 2 === 0 ? datum.label : ''", "tickSize": {"condition": {"test": "datum.value % 2 === 0", "value": -17}, "value": -10}, "labelPadding": -17, "labelBaseline": "middle", "labelOverlap": false, "labelFlush": false, "title": null}},
           "y": {"field": "b", "type": "quantitative", "scale": {"domain": [8.235, 13], "reverse": true, "nice": false, "zero": false},
                 "axis": {"orient": "right", "values": [8.5, 9, 9.5, 10, 10.5, 11, 11.5, 12, 12.5], "labels": false, "tickSize": {"condition": {"test": "datum.value % 1 === 0", "value": -17}, "value": -9}, "title": null}}
         }}
      ],
      "resolve": {"scale": {"x": "independent"}, "axis": {"x": "independent", "y": "independent"}}
    },
    {
      "width": 1096, "height": 328,
      "layer": [
        {"layer": [
          {"data": {"name": "lc"}, "transform": [{"filter": "datum.jd >= 39200 && datum.jd <= 49300"}],
           "mark": {"type": "line", "color": "#808080", "strokeWidth": 0.8, "clip": true},
           "encoding": {
             "x": {"field": "jd", "type": "quantitative", "scale": {"domain": [39500, 49000], "nice": false, "zero": false},
                   "axis": {"orient": "bottom", "tickCount": 48, "format": "d", "labelExpr": "datum.value % 1000 === 0 && datum.value > 39500 && datum.value < 49000 ? datum.label : ''", "tickSize": {"condition": {"test": "datum.value % 1000 === 0", "value": -19}, "value": -9}, "labelPadding": -16, "labelBaseline": "middle", "labelOverlap": false, "labelFlush": false, "title": null}},
             "y": {"field": "b", "type": "quantitative", "scale": {"domain": [8.235, 13], "reverse": true, "nice": false, "zero": false},
                   "axis": {"orient": "left", "values": [8.5, 9, 9.5, 10, 10.5, 11, 11.5, 12, 12.5], "labelExpr": "datum.value % 1 === 0 ? '' + datum.value : ''", "tickSize": {"condition": {"test": "datum.value % 1 === 0", "value": -17}, "value": -9}, "labelAlign": "left", "labelPadding": -5, "labelBaseline": "middle", "labelOverlap": false, "title": null}}
           }},
          {"data": {"name": "lc"}, "transform": [{"filter": "datum.jd >= 39200 && datum.jd <= 49300"}],
           "mark": {"type": "circle", "color": "#0000ff", "size": 22, "opacity": 1, "clip": true},
           "encoding": {
             "x": {"field": "jd", "type": "quantitative", "scale": {"domain": [39500, 49000], "nice": false, "zero": false}},
             "y": {"field": "b", "type": "quantitative", "scale": {"domain": [8.235, 13], "reverse": true, "nice": false, "zero": false}}
           }},
          {"data": {"name": "cuts"}, "transform": [{"filter": "datum.jd > 39500 && datum.jd < 49000"}],
           "mark": {"type": "rule", "color": "#cc2233", "strokeWidth": 1},
           "encoding": {
             "x": {"field": "jd", "type": "quantitative", "scale": {"domain": [39500, 49000], "nice": false, "zero": false}}
           }},
          {"data": {"name": "phases"}, "transform": [{"filter": "datum.jd > 39500 && datum.jd < 49000"}],
           "mark": {"type": "text", "font": "Liberation Sans", "fontWeight": "bold", "fontSize": 23, "color": "#000"},
           "encoding": {
             "x": {"field": "jd", "type": "quantitative", "scale": {"domain": [39500, 49000], "nice": false, "zero": false}},
             "y": {"field": "b", "type": "quantitative", "scale": {"domain": [8.235, 13], "reverse": true, "nice": false, "zero": false}},
             "text": {"field": "t"}
           }}
        ]},
        {"data": {"values": [{"yr": 1980, "b": 11}]},
         "mark": {"type": "point", "opacity": 0},
         "encoding": {
           "x": {"field": "yr", "type": "quantitative", "scale": {"domain": [1967.0212, 1993.0308], "nice": false, "zero": false},
                 "axis": {"orient": "top", "tickCount": 26, "format": "d", "labelExpr": "datum.value % 2 === 0 ? datum.label : ''", "tickSize": {"condition": {"test": "datum.value % 2 === 0", "value": -17}, "value": -10}, "labelPadding": -17, "labelBaseline": "middle", "labelOverlap": false, "labelFlush": false, "title": null}},
           "y": {"field": "b", "type": "quantitative", "scale": {"domain": [8.235, 13], "reverse": true, "nice": false, "zero": false},
                 "axis": {"orient": "right", "values": [8.5, 9, 9.5, 10, 10.5, 11, 11.5, 12, 12.5], "labels": false, "tickSize": {"condition": {"test": "datum.value % 1 === 0", "value": -17}, "value": -9}, "title": null}}
         }}
      ],
      "resolve": {"scale": {"x": "independent"}, "axis": {"x": "independent", "y": "independent"}}
    },
    {
      "width": 1096, "height": 328,
      "layer": [
        {"layer": [
          {"data": {"name": "lc"}, "transform": [{"filter": "datum.jd >= 48700 && datum.jd <= 58800"}],
           "mark": {"type": "line", "color": "#808080", "strokeWidth": 0.8, "clip": true},
           "encoding": {
             "x": {"field": "jd", "type": "quantitative", "scale": {"domain": [49000, 58500], "nice": false, "zero": false},
                   "axis": {"orient": "bottom", "tickCount": 48, "format": "d", "labelExpr": "datum.value % 1000 === 0 && datum.value > 49000 && datum.value < 58500 ? datum.label : ''", "tickSize": {"condition": {"test": "datum.value % 1000 === 0", "value": -19}, "value": -9}, "labelPadding": -16, "labelBaseline": "middle", "labelOverlap": false, "labelFlush": false,
                            "title": "JD - 2 400 000 [dni]", "titleFont": "Open Sans", "titleFontWeight": "bold", "titleFontSize": 29, "titleColor": "#000", "titlePadding": 12}},
             "y": {"field": "b", "type": "quantitative", "scale": {"domain": [8.235, 13], "reverse": true, "nice": false, "zero": false},
                   "axis": {"orient": "left", "values": [8.5, 9, 9.5, 10, 10.5, 11, 11.5, 12, 12.5], "labelExpr": "datum.value % 1 === 0 ? '' + datum.value : ''", "tickSize": {"condition": {"test": "datum.value % 1 === 0", "value": -17}, "value": -9}, "labelAlign": "left", "labelPadding": -5, "labelBaseline": "middle", "labelOverlap": false, "title": null}}
           }},
          {"data": {"name": "lc"}, "transform": [{"filter": "datum.jd >= 48700 && datum.jd <= 58800"}],
           "mark": {"type": "circle", "color": "#0000ff", "size": 22, "opacity": 1, "clip": true},
           "encoding": {
             "x": {"field": "jd", "type": "quantitative", "scale": {"domain": [49000, 58500], "nice": false, "zero": false}},
             "y": {"field": "b", "type": "quantitative", "scale": {"domain": [8.235, 13], "reverse": true, "nice": false, "zero": false}}
           }},
          {"data": {"name": "cuts"}, "transform": [{"filter": "datum.jd > 49000 && datum.jd < 58500"}],
           "mark": {"type": "rule", "color": "#cc2233", "strokeWidth": 1},
           "encoding": {
             "x": {"field": "jd", "type": "quantitative", "scale": {"domain": [49000, 58500], "nice": false, "zero": false}}
           }},
          {"data": {"name": "phases"}, "transform": [{"filter": "datum.jd > 49000 && datum.jd < 58500"}],
           "mark": {"type": "text", "font": "Liberation Sans", "fontWeight": "bold", "fontSize": 23, "color": "#000"},
           "encoding": {
             "x": {"field": "jd", "type": "quantitative", "scale": {"domain": [49000, 58500], "nice": false, "zero": false}},
             "y": {"field": "b", "type": "quantitative", "scale": {"domain": [8.235, 13], "reverse": true, "nice": false, "zero": false}},
             "text": {"field": "t"}
           }}
        ]},
        {"data": {"values": [{"yr": 2000, "b": 11}]},
         "mark": {"type": "point", "opacity": 0},
         "encoding": {
           "x": {"field": "yr", "type": "quantitative", "scale": {"domain": [1993.0308, 2019.0404], "nice": false, "zero": false},
                 "axis": {"orient": "top", "tickCount": 26, "format": "d", "labelExpr": "datum.value % 2 === 0 ? datum.label : ''", "tickSize": {"condition": {"test": "datum.value % 2 === 0", "value": -17}, "value": -10}, "labelPadding": -17, "labelBaseline": "middle", "labelOverlap": false, "labelFlush": false, "title": null}},
           "y": {"field": "b", "type": "quantitative", "scale": {"domain": [8.235, 13], "reverse": true, "nice": false, "zero": false},
                 "axis": {"orient": "right", "values": [8.5, 9, 9.5, 10, 10.5, 11, 11.5, 12, 12.5], "labels": false, "tickSize": {"condition": {"test": "datum.value % 1 === 0", "value": -17}, "value": -9}, "title": null}}
         }}
      ],
      "resolve": {"scale": {"x": "independent"}, "axis": {"x": "independent", "y": "independent"}}
    }
  ],
  "config": {
    "view": {"stroke": "#222", "strokeWidth": 1.5},
    "axis": {"grid": false, "domain": false, "labelFont": "Liberation Sans", "labelFontSize": 20, "labelColor": "#111", "tickColor": "#333", "tickWidth": 1.1}
  }
}
